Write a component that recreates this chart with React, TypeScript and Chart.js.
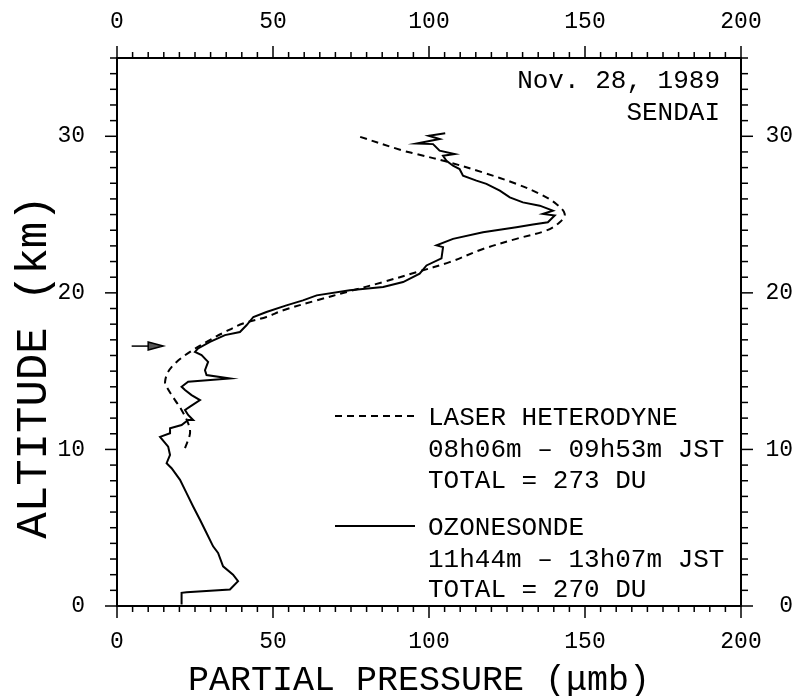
import React, { useEffect, useRef } from 'react';
import { Chart, registerables } from 'chart.js';

Chart.register(...registerables);

// Ozonesonde profile (solid line): partial pressure (µmb) vs altitude (km)
const SONDE_PRESSURE = [20.7, 20.7, 22.3, 36.2, 38.8, 37.2, 34.0, 32.4, 30.8, 28.7, 26.6, 24.4, 22.3, 20.2, 17.5, 15.9, 17.0, 16.4, 13.8, 17.0, 17.0, 20.7, 22.8, 24.4, 22.8, 21.8, 23.4, 26.6, 23.9, 21.8, 20.7, 22.8, 36.2, 28.7, 28.2, 29.2, 27.1, 25.0, 26.0, 29.8, 34.6, 39.4, 41.5, 43.7, 47.9, 54.3, 59.6, 64.0, 74.6, 85.3, 91.7, 97.0, 99.2, 104.0, 104.5, 102.4, 107.7, 117.3, 128.0, 133.3, 138.1, 140.3, 136.5, 139.7, 135.5, 130.1, 125.9, 122.7, 118.4, 115.2, 110.9, 109.8, 107.7, 105.6, 104.5, 108.2, 103.4, 101.3, 96.0, 103.4, 99.9, 105.2];
const SONDE_ALTITUDE = [0.1, 0.84, 0.88, 1.05, 1.58, 2.0, 2.53, 3.39, 3.81, 4.66, 5.51, 6.36, 7.21, 8.06, 8.8, 9.12, 9.65, 10.18, 10.8, 11.03, 11.35, 11.56, 11.88, 11.88, 12.2, 12.52, 12.73, 13.15, 13.47, 13.79, 14.0, 14.32, 14.53, 14.75, 15.06, 15.59, 16.02, 16.23, 16.45, 16.87, 17.3, 17.5, 17.93, 18.46, 18.78, 19.2, 19.52, 19.84, 20.16, 20.37, 20.69, 21.22, 21.75, 22.2, 22.92, 23.03, 23.45, 23.87, 24.19, 24.36, 24.51, 24.94, 25.04, 25.25, 25.57, 25.78, 26.1, 26.53, 26.96, 27.17, 27.48, 27.91, 28.12, 28.44, 28.76, 28.87, 29.08, 29.5, 29.54, 29.82, 30.03, 30.2];

// Laser heterodyne profile (dashed line)
const LASER_PRESSURE = [21.8, 23.4, 22.8, 20.7, 18.6, 15.9, 15.4, 16.4, 19.1, 23.4, 28.7, 34.6, 40.4, 47.9, 53.3, 64.0, 74.6, 85.3, 96.0, 106.6, 117.3, 128.0, 137.6, 141.9, 143.5, 140.8, 135.5, 128.0, 117.3, 106.6, 96.0, 91.7, 76.9];
const LASER_ALTITUDE = [10.08, 11.03, 11.67, 12.52, 13.15, 14.0, 14.32, 14.96, 15.59, 16.23, 16.87, 17.5, 18.04, 18.46, 18.89, 19.52, 20.11, 20.69, 21.32, 21.96, 22.8, 23.45, 23.98, 24.51, 25.04, 25.68, 26.32, 26.96, 27.69, 28.33, 28.87, 29.08, 30.03];

// Arrow marker (tropopause)
const ARROW_PRESSURE = [4.7, 14.8];
const ARROW_ALTITUDE = [16.6, 16.6];

// Axes
const X_MIN = 0;
const X_MAX = 200;
const Y_MIN = 0;
const Y_MAX = 35;
const X_TICKS = [0, 50, 100, 150, 200];
const Y_TICKS = [0, 10, 20, 30];
const X_MINOR_STEP = 5;
const Y_MINOR_STEP = 1;

// Texts
const X_TITLE = 'PARTIAL PRESSURE (\u03BCmb)';
const Y_TITLE = 'ALTITUDE (km)';
const DATE_TEXT = ['Nov. 28, 1989', 'SENDAI'];
const LASER_LEGEND = ['LASER HETERODYNE', '08h06m \u2013 09h53m JST', 'TOTAL = 273 DU'];
const SONDE_LEGEND = ['OZONESONDE', '11h44m \u2013 13h07m JST', 'TOTAL = 270 DU'];

const FONT = "'Liberation Mono', 'Courier New', monospace";

const toPoints = (xs: number[], ys: number[]) => xs.map((x, i) => ({ x, y: ys[i] }));

const decorPlugin = {
  id: 'decor',
  afterDraw(chart: any) {
    const ctx: CanvasRenderingContext2D = chart.ctx;
    const xs = chart.scales.x;
    const ys = chart.scales.y;
    const { left, right, top, bottom } = chart.chartArea;
    ctx.save();
    ctx.strokeStyle = '#000';
    ctx.fillStyle = '#000';
    ctx.lineWidth = 1.5;
    const seg = (x1: number, y1: number, x2: number, y2: number) => {
      ctx.beginPath();
      ctx.moveTo(x1, y1);
      ctx.lineTo(x2, y2);
      ctx.stroke();
    };
    // x ticks (outward, top and bottom)
    for (let v = X_MIN; v <= X_MAX + 1e-9; v += X_MINOR_STEP) {
      const px = xs.getPixelForValue(v);
      const major = X_TICKS.includes(v);
      const len = major ? 12 : 6;
      seg(px, bottom, px, bottom + len);
      seg(px, top, px, top - len);
    }
    // y ticks (outward, left and right)
    for (let v = Y_MIN; v <= Y_MAX + 1e-9; v += Y_MINOR_STEP) {
      const py = ys.getPixelForValue(v);
      const major = Y_TICKS.includes(v);
      const len = major ? 12 : 7;
      seg(left, py, left - len, py);
      seg(right, py, right + len, py);
    }

    // arrow
    const ax1 = xs.getPixelForValue(ARROW_PRESSURE[0]);
    const ax2 = xs.getPixelForValue(ARROW_PRESSURE[1]);
    const ay = ys.getPixelForValue(ARROW_ALTITUDE[0]);
    ctx.lineWidth = 1.5;
    seg(ax1, ay, ax2 - 12, ay);
    ctx.beginPath();
    ctx.moveTo(ax2, ay);
    ctx.lineTo(ax2 - 15, ay - 4);
    ctx.lineTo(ax2 - 15, ay + 4);
    ctx.closePath();
    ctx.fillStyle = '#555';
    ctx.fill();
    ctx.stroke();
    ctx.fillStyle = '#000';

    // axis titles
    ctx.textAlign = 'center';
    ctx.textBaseline = 'alphabetic';
    ctx.font = `35px ${FONT}`;
    ctx.fillText(X_TITLE, 419, 690);
    ctx.save();
    ctx.translate(46, 367);
    ctx.rotate(-Math.PI / 2);
    ctx.font = `44px ${FONT}`;
    ctx.fillText(Y_TITLE, 0, 0);
    ctx.restore();

    // date / place
    ctx.font = `26px ${FONT}`;
    ctx.textAlign = 'right';
    ctx.fillText(DATE_TEXT[0], 720, 88);
    ctx.fillText(DATE_TEXT[1], 720, 120);

    // legend
    ctx.textAlign = 'left';
    ctx.lineWidth = 2;
    ctx.setLineDash([7, 5]);
    seg(335, 416, 415, 416);
    ctx.setLineDash([]);
    seg(335, 526, 415, 526);
    const laserBase = [425, 457, 488];
    const sondeBase = [535, 567, 597];
    LASER_LEGEND.forEach((t, i) => ctx.fillText(t, 428, laserBase[i]));
    SONDE_LEGEND.forEach((t, i) => ctx.fillText(t, 428, sondeBase[i]));
    ctx.restore();
  },
};

export default function App() {
  const canvasRef = useRef<HTMLCanvasElement>(null);

  useEffect(() => {
    const canvas = canvasRef.current;
    if (!canvas) return;
    const tickFont = { family: FONT, size: 23 };
    const setXTicks = (s: any) => {
      s.ticks = X_TICKS.map((v) => ({ value: v }));
    };
    const setYTicks = (s: any) => {
      s.ticks = Y_TICKS.map((v) => ({ value: v }));
    };
    const border = { display: true, color: '#000', width: 2 };
    const grid = { display: false, drawTicks: false };
    const chart = new Chart(canvas, {
      type: 'line',
      data: {
        datasets: [
          {
            label: 'OZONESONDE',
            data: toPoints(SONDE_PRESSURE, SONDE_ALTITUDE),
            borderColor: '#000',
            borderWidth: 2,
            pointRadius: 0,
            tension: 0,
            fill: false,
            xAxisID: 'x',
            yAxisID: 'y',
          },
          {
            label: 'LASER HETERODYNE',
            data: toPoints(LASER_PRESSURE, LASER_ALTITUDE),
            borderColor: '#000',
            borderWidth: 2,
            borderDash: [7, 5],
            pointRadius: 0,
            tension: 0.35,
            fill: false,
            xAxisID: 'x',
            yAxisID: 'y',
          },
        ],
      },
      options: {
        animation: false,
        responsive: false,
        maintainAspectRatio: false,
        layout: { padding: { left: 0, right: 5, top: 0, bottom: 0 } },
        plugins: { legend: { display: false }, tooltip: { enabled: false } },
        scales: {
          x: {
            type: 'linear',
            position: 'bottom',
            min: X_MIN,
            max: X_MAX,
            grid,
            border,
            afterBuildTicks: setXTicks,
            afterFit: (s: any) => {
              s.height = 90;
            },
            ticks: { font: tickFont, color: '#000', padding: 22, maxRotation: 0 },
          },
          x2: {
            type: 'linear',
            axis: 'x',
            position: 'top',
            min: X_MIN,
            max: X_MAX,
            grid,
            border,
            afterBuildTicks: setXTicks,
            afterFit: (s: any) => {
              s.height = 58;
            },
            ticks: { font: tickFont, color: '#000', padding: 22, maxRotation: 0 },
          },
          y: {
            type: 'linear',
            position: 'left',
            min: Y_MIN,
            max: Y_MAX,
            grid,
            border,
            afterBuildTicks: setYTicks,
            afterFit: (s: any) => {
              s.width = 117;
            },
            ticks: { font: tickFont, color: '#000', padding: 32 },
          },
          y2: {
            type: 'linear',
            axis: 'y',
            position: 'right',
            min: Y_MIN,
            max: Y_MAX,
            grid,
            border,
            afterBuildTicks: setYTicks,
            afterFit: (s: any) => {
              s.width = 52;
            },
            ticks: { font: tickFont, color: '#000', padding: 24, crossAlign: 'far' },
          },
        },
      },
      plugins: [decorPlugin],
    });
    return () => chart.destroy();
  }, []);

  return (
    <div style={{ position: 'absolute', left: 0, top: 0, width: 798, height: 696, background: '#fff' }}>
      <canvas ref={canvasRef} width={798} height={696} style={{ display: 'block' }} />
    </div>
  );
}
